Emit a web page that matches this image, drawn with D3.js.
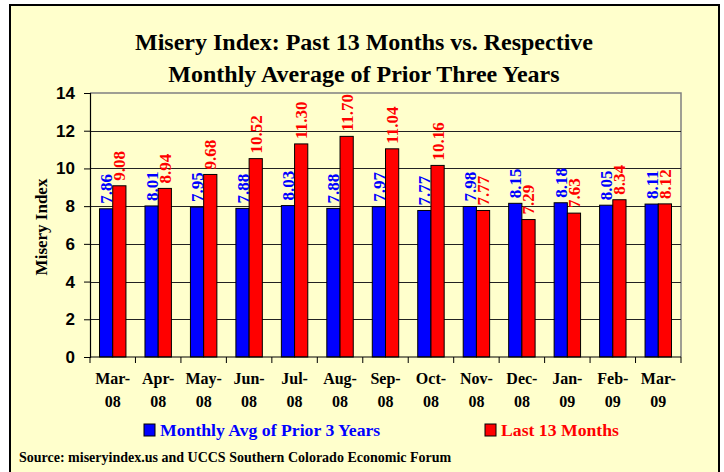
<!DOCTYPE html>
<html>
<head>
<meta charset="utf-8">
<script src="https://cdn.jsdelivr.net/npm/d3@7"></script>
<style>
  body { margin: 0; background: #fff; }
  svg { display: block; font-family: "Liberation Serif", "Times New Roman", serif; font-weight: bold; }
</style>
</head>
<body>
<svg id="chart" width="724" height="472"></svg>
<script>
// data
const months = ['Mar-08', 'Apr-08', 'May-08', 'Jun-08', 'Jul-08', 'Aug-08', 'Sep-08',
  'Oct-08', 'Nov-08', 'Dec-08', 'Jan-09', 'Feb-09', 'Mar-09'];
const priorAvg = [7.86, 8.01, 7.95, 7.88, 8.03, 7.88, 7.97, 7.77, 7.98, 8.15, 8.18, 8.05, 8.11];
const last13 = [9.08, 8.94, 9.68, 10.52, 11.30, 11.70, 11.04, 10.16, 7.77, 7.29, 7.63, 8.34, 8.12];
const seriesNames = ['Monthly Avg of Prior 3 Years', 'Last 13 Months'];
const yTicks = [0, 2, 4, 6, 8, 10, 12, 14];

const colors = ['#0000ff', '#ff0000'];
const svg = d3.select('#chart');

// outer frame
svg.append('rect')
  .attr('x', 10).attr('y', 5)
  .attr('width', 709).attr('height', 480)
  .attr('fill', '#ffffcc')
  .attr('stroke', '#000')
  .attr('stroke-width', 2);

// title
const title = svg.append('text')
  .attr('text-anchor', 'middle')
  .attr('font-size', 24);
title.append('tspan').attr('x', 364).attr('y', 50).text('Misery Index: Past 13 Months vs. Respective');
title.append('tspan').attr('x', 364).attr('y', 82).text('Monthly Average of Prior Three Years');

const plot = { left: 90, right: 681, top: 93, bottom: 357 };

const x = d3.scaleBand()
  .domain(months)
  .range([plot.left, plot.right]);
const x1 = d3.scaleBand()
  .domain([0, 1])
  .range([0, x.bandwidth()])
  .paddingOuter(0.72);
const y = d3.scaleLinear()
  .domain([0, 14])
  .range([plot.bottom, plot.top]);

// plot area border (grey top / right)
svg.append('path')
  .attr('d', `M${plot.left},${plot.top}H${plot.right}V${plot.bottom}`)
  .attr('fill', 'none')
  .attr('stroke', '#808080')
  .attr('stroke-width', 1.5);

// gridlines
svg.append('g')
  .selectAll('line')
  .data(yTicks.filter(d => d > 0 && d < 14))
  .enter()
  .append('line')
  .attr('x1', plot.left).attr('x2', plot.right)
  .attr('y1', d => Math.round(y(d)) + 0.5)
  .attr('y2', d => Math.round(y(d)) + 0.5)
  .attr('stroke', '#222')
  .attr('stroke-width', 1.2);

// bars
const rows = months.map((m, i) => ({ month: m, values: [priorAvg[i], last13[i]] }));
const groups = svg.append('g')
  .selectAll('g')
  .data(rows)
  .enter()
  .append('g')
  .attr('transform', d => 'translate(' + x(d.month) + ',0)');

groups.selectAll('rect')
  .data(d => d.values.map((v, k) => ({ k: k, v: v })))
  .enter()
  .append('rect')
  .attr('x', d => x1(d.k))
  .attr('y', d => y(d.v))
  .attr('width', x1.bandwidth())
  .attr('height', d => y(0) - y(d.v))
  .attr('fill', d => colors[d.k])
  .attr('stroke', '#000')
  .attr('stroke-width', 1);

// value labels, rotated
groups.selectAll('text')
  .data(d => d.values.map((v, k) => ({ k: k, v: v })))
  .enter()
  .append('text')
  .attr('transform', d => 'translate(' + (x1(d.k) + x1.bandwidth() / 2 + 6) + ',' + (y(d.v) - 5) + ') rotate(-90)')
  .attr('font-size', 17)
  .attr('fill', d => colors[d.k])
  .text(d => d.v.toFixed(2));

// y axis
const yAxis = d3.axisLeft(y)
  .tickValues(yTicks)
  .tickSize(6)
  .tickPadding(9);
const gy = svg.append('g')
  .attr('transform', 'translate(' + plot.left + ',0)')
  .call(yAxis);
gy.select('.domain').attr('stroke', '#000').attr('stroke-width', 1.2);
gy.selectAll('.tick line').attr('stroke', '#000');
gy.selectAll('.tick text')
  .attr('font-size', 17)
  .attr('font-family', null)
  .attr('fill', '#000');

// x axis: ticks at category boundaries
const gx = svg.append('g')
  .attr('transform', 'translate(0,' + plot.bottom + ')');
gx.append('line')
  .attr('x1', plot.left).attr('x2', plot.right)
  .attr('stroke', '#000').attr('stroke-width', 1.2);
gx.selectAll('line.tick')
  .data(months.concat([null]))
  .enter()
  .append('line')
  .attr('class', 'tick')
  .attr('x1', (d, i) => plot.left + i * x.step())
  .attr('x2', (d, i) => plot.left + i * x.step())
  .attr('y1', 0).attr('y2', 6)
  .attr('stroke', '#000');
const xl = gx.selectAll('text')
  .data(months)
  .enter()
  .append('text')
  .attr('text-anchor', 'middle')
  .attr('font-size', 16)
  .attr('fill', '#000');
xl.append('tspan')
  .attr('x', d => x(d) + x.bandwidth() / 2)
  .attr('y', 27)
  .text(d => d.split('-')[0] + '-');
xl.append('tspan')
  .attr('x', d => x(d) + x.bandwidth() / 2)
  .attr('y', 50)
  .text(d => d.split('-')[1]);

// y axis title
svg.append('text')
  .attr('transform', 'translate(47,227) rotate(-90)')
  .attr('text-anchor', 'middle')
  .attr('font-size', 17)
  .text('Misery Index');

// legend
const legendX = [144, 485];
const legend = svg.append('g')
  .selectAll('g')
  .data(seriesNames)
  .enter()
  .append('g')
  .attr('transform', (d, i) => 'translate(' + legendX[i] + ',424)');
legend.append('rect')
  .attr('width', 11).attr('height', 12)
  .attr('fill', (d, i) => colors[i])
  .attr('stroke', '#000');
legend.append('text')
  .attr('x', 16).attr('y', 12)
  .attr('font-size', 17.7)
  .attr('fill', (d, i) => colors[i])
  .text(d => d);

// source
svg.append('text')
  .attr('x', 19).attr('y', 462)
  .attr('font-size', 14)
  .text('Source: miseryindex.us and UCCS Southern Colorado Economic Forum');
</script>
</body>
</html>
